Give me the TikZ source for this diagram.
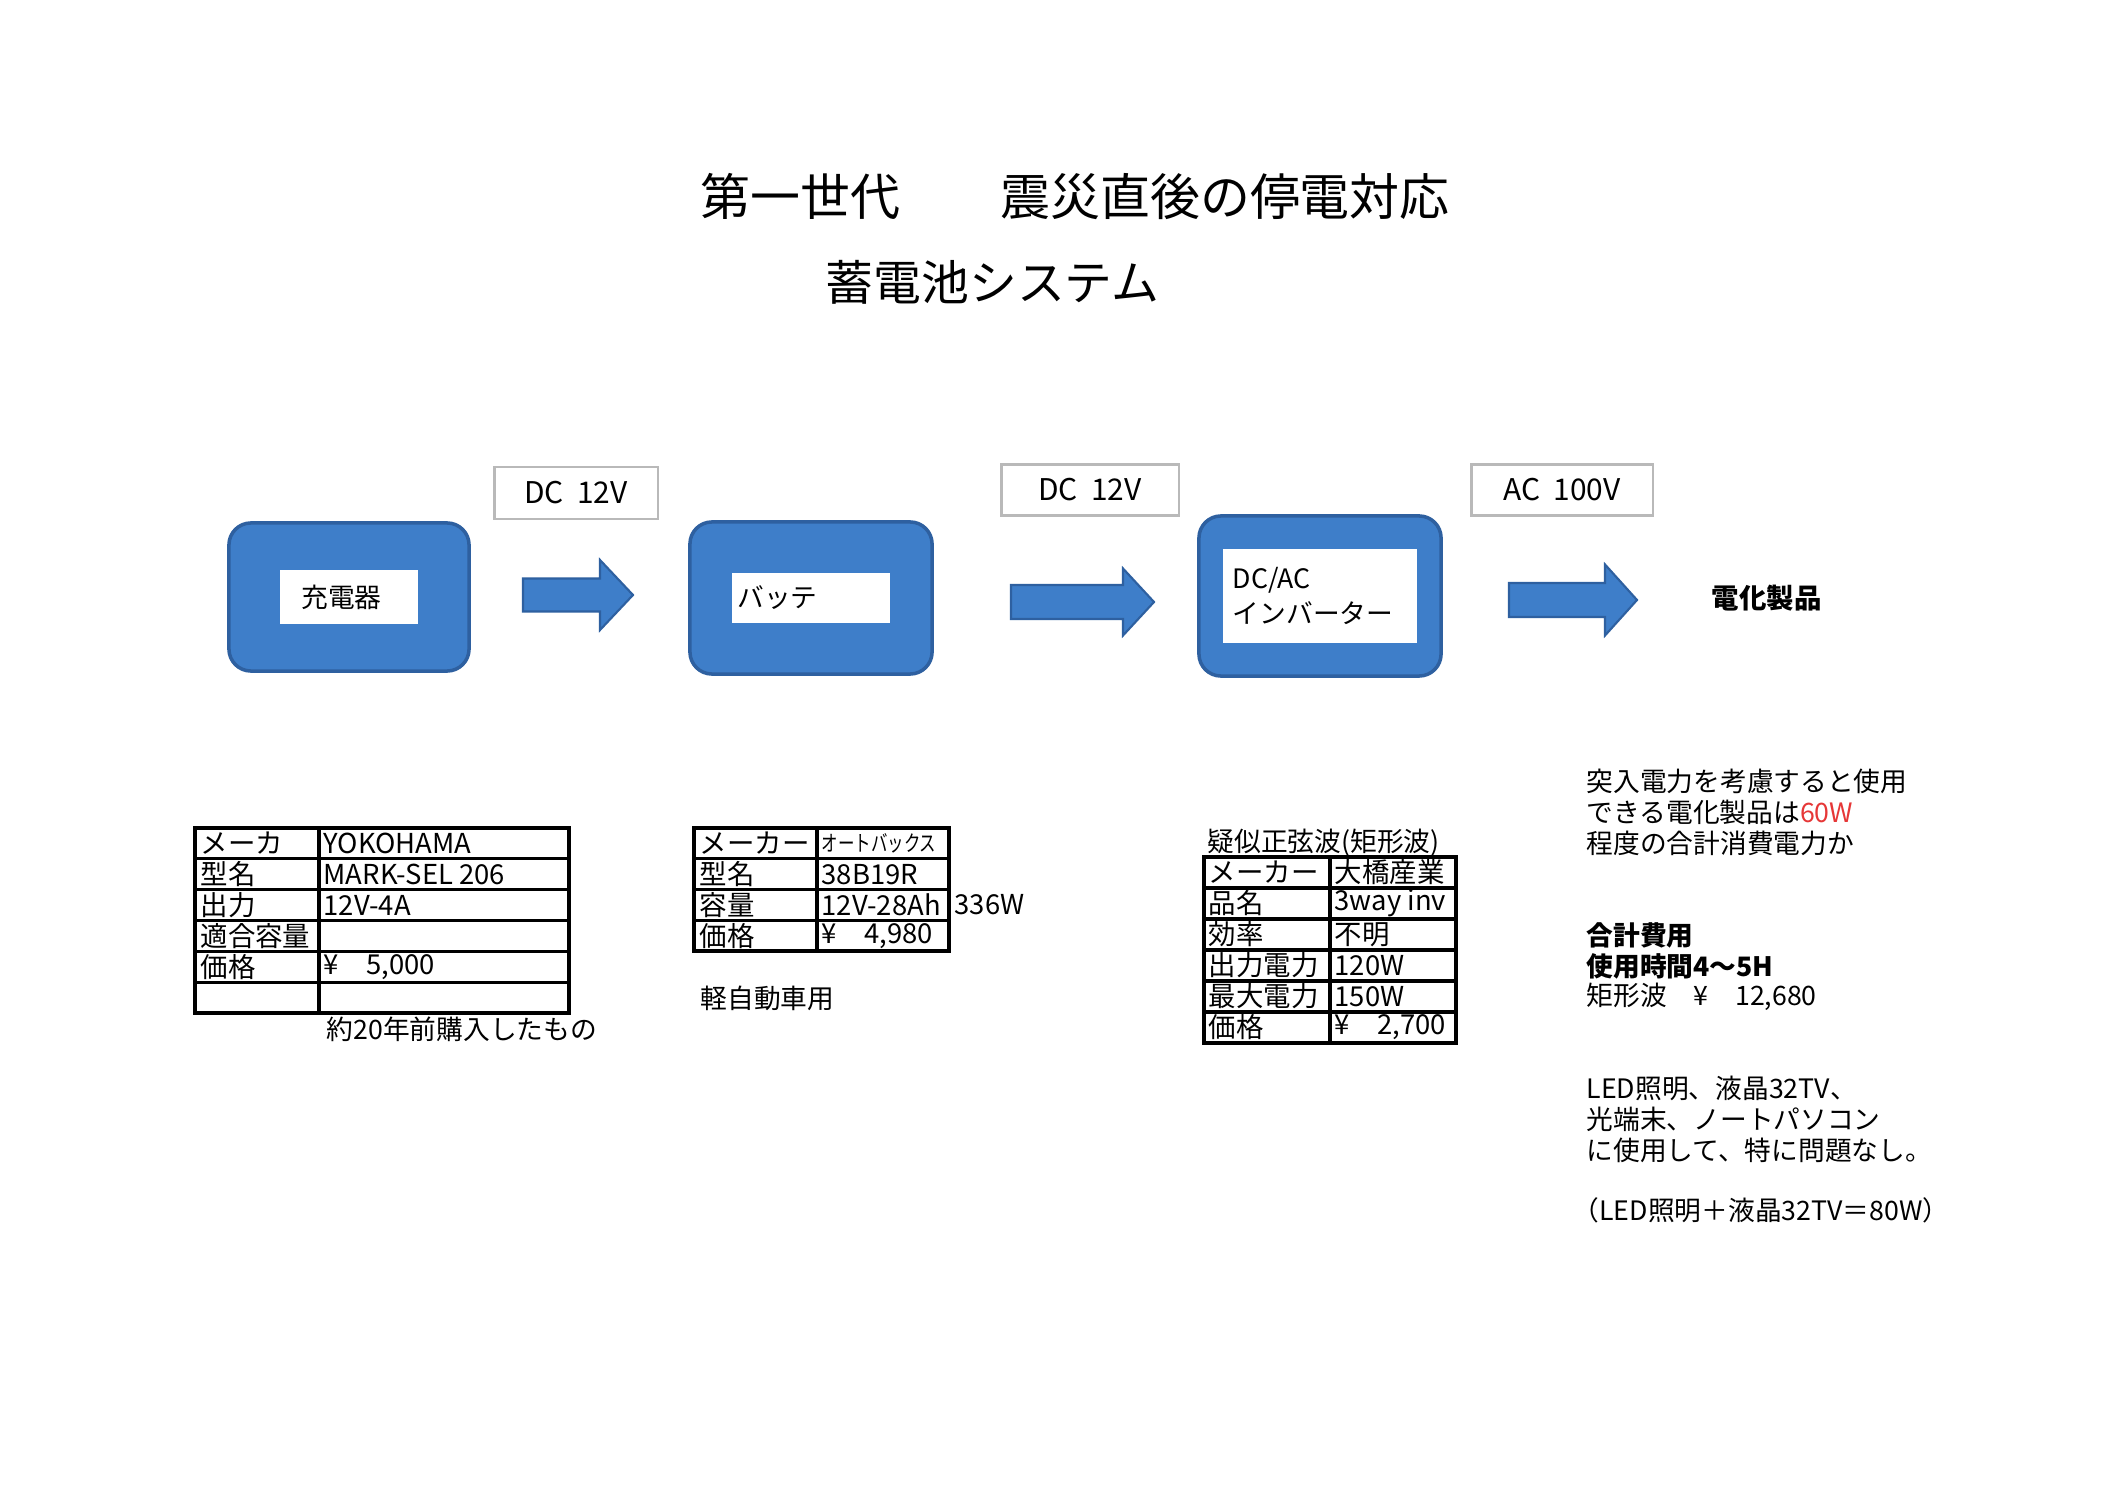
\documentclass[tikz,border=0pt]{standalone}
\usepackage{fontspec}
\setmainfont{Noto Sans CJK JP}
\definecolor{blockblue}{RGB}{62,126,201}
\definecolor{blockedge}{RGB}{46,96,160}
\definecolor{tagedge}{RGB}{185,185,185}
\definecolor{alert}{RGB}{230,55,55}

\begin{document}
\begin{tikzpicture}[x=0.01cm, y=-0.01cm,
    block/.style={draw=blockedge, line width=1pt, fill=blockblue, rounded corners=0.22cm},
    blocktext/.style={fill=white, inner ysep=0pt, align=left,
        font=\fontsize{7.6}{10}\selectfont},
    barrow/.style={draw=blockedge, line width=0.6pt, fill=blockblue},
    voltag/.style={draw=tagedge, line width=0.6pt, inner sep=0pt,
        font=\fontsize{8.5}{10}\selectfont},
    tbl/.style={line width=0.9pt},
    cell/.style={anchor=west, inner sep=0pt, font=\fontsize{7.8}{9}\selectfont},
    memo/.style={anchor=west, inner sep=0pt, font=\fontsize{7.6}{9}\selectfont}]
    \useasboundingbox (0,0) rectangle (2104,1489);
    \fill[white] (0,0) rectangle (2104,1489);
    % タイトル
    \node[memo, font=\fontsize{14.2}{16}\selectfont] (title) at (700,197)
        {第一世代　　震災直後の停電対応};
    \node[memo, font=\fontsize{13.6}{16}\selectfont] (subtitle) at (825,282)
        {蓄電池システム};
    % ブロック
    \node[block, minimum width=2.40cm, minimum height=1.48cm] (charger) at (349,597) {};
    \node[blocktext, text width=0.95cm, inner xsep=0.21cm, minimum height=0.54cm]
        (chargertext) at (charger) {充電器};
    \node[block, minimum width=2.42cm, minimum height=1.52cm] (battery) at (811,598) {};
    \node[blocktext, text width=1.47cm, inner xsep=0.05cm, minimum height=0.50cm]
        (batterytext) at (battery) {バッテ};
    \node[block, minimum width=2.42cm, minimum height=1.60cm] (inverter) at (1320,596) {};
    \node[blocktext, text width=1.74cm, inner xsep=0.10cm, minimum height=0.94cm]
        (invertertext) at (inverter) {DC/AC\\インバーター};
    % 矢印
    \foreach \name/\xa/\xb/\xc/\ym/\s/\h in {arrA/523/600/633/595/16.5/35,
        arrB/1011/1123/1154/602/17/33.5, arrC/1509/1605/1637/600/17/35.5}
    {
        \draw[barrow] (\xa,{\ym-\s}) -- (\xb,{\ym-\s}) -- (\xb,{\ym-\h})
            -- (\xc,\ym) -- (\xb,{\ym+\h}) -- (\xb,{\ym+\s}) -- (\xa,{\ym+\s}) -- cycle;
        \coordinate (\name) at (\xc,\ym);
    }
    \node[voltag, minimum width=1.63cm, minimum height=0.52cm] (tagA) at (576,493) {DC\ \ 12V};
    \node[voltag, minimum width=1.77cm, minimum height=0.51cm] (tagB) at (1090,490) {DC\ \ 12V};
    \node[voltag, minimum width=1.81cm, minimum height=0.51cm] (tagC) at (1562,490) {AC\ \ 100V};
    \node[memo, font=\fontsize{7.8}{9}\selectfont\bfseries] (goods) at (1711,598) {電化製品};
    % 充電器の表
    \def\rh{30.83}
    \draw[tbl] (195,828) rectangle (569,1013);
    \draw[tbl] (319,828) -- (319,1013);
    \foreach \k in {1,...,5}
        \draw[tbl] (195,{828+\rh*\k}) -- (569,{828+\rh*\k});
    \foreach \k/\t in {0/メーカ,1/型名,2/出力,3/適合容量,4/価格}
        \node[cell] (chgkey\k) at (200,{843.4+\rh*\k}) {\t};
    \foreach \k/\t in {0/YOKOHAMA,1/MARK-SEL 206,2/12V-4A,4/{¥　5,000}}
        \node[cell] (chgval\k) at (323,{843.4+\rh*\k}) {\t};
    \node[memo] (chgnote) at (326,1029) {約20年前購入したもの};
    % バッテリーの表
    \draw[tbl] (694,828) rectangle (949,951);
    \draw[tbl] (817,828) -- (817,951);
    \foreach \k in {1,2,3}
        \draw[tbl] (694,{828+30.75*\k}) -- (949,{828+30.75*\k});
    \foreach \k/\t in {0/メーカー,1/型名,2/容量,3/価格}
        \node[cell] (batkey\k) at (699,{843.4+30.75*\k}) {\t};
    \foreach \k/\t in {0/{\scalebox{0.6}[0.8]{オートバックス}},1/38B19R,2/12V-28Ah,3/{¥　4,980}}
        \node[cell] (batval\k) at (821,{843.4+30.75*\k}) {\t};
    \node[cell] (batwatt) at (954,905) {336W};
    \node[memo] (batnote) at (700,998) {軽自動車用};
    % インバーターの表
    \node[memo] (wave) at (1207,843) {疑似正弦波(矩形波)};
    \draw[tbl] (1204,857) rectangle (1456,1043);
    \draw[tbl] (1330,857) -- (1330,1043);
    \foreach \k in {1,...,5}
        \draw[tbl] (1204,{857+31*\k}) -- (1456,{857+31*\k});
    \foreach \k/\t in {0/メーカー,1/品名,2/効率,3/出力電力,4/最大電力,5/価格}
        \node[cell] (invkey\k) at (1208,{872.5+31*\k}) {\t};
    \foreach \k/\t in {0/大橋産業,1/3way inv,2/不明,3/120W,4/150W,5/{¥　2,700}}
        \node[cell] (invval\k) at (1334,{872.5+31*\k}) {\t};
    % メモ
    \foreach \t [count=\k from 0] in {突入電力を考慮すると使用,
        できる電化製品は\textcolor{alert}{60W}, 程度の合計消費電力か}
        \node[memo] (rush\k) at (1586,{781+31*\k}) {\t};
    \foreach \t [count=\k from 0] in {{\bfseries 合計費用}, {\bfseries 使用時間4～5H},
        {矩形波　¥　12,680}}
        \node[memo] (cost\k) at (1586,{935+31*\k}) {\t};
    \foreach \t [count=\k from 0] in {LED照明、液晶32TV、, 光端末、ノートパソコン,
        に使用して、特に問題なし。}
        \node[memo] (use\k) at (1586,{1088+31*\k}) {\t};
    \node[memo] (total) at (1572,1210) {（LED照明＋液晶32TV＝80W）};
\end{tikzpicture}
\end{document}
